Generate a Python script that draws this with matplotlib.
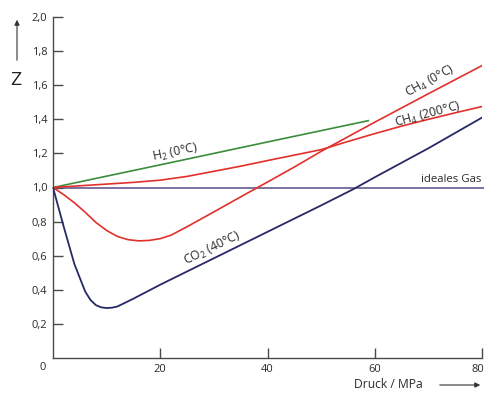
import matplotlib
matplotlib.use("Agg")
import matplotlib.pyplot as plt
import matplotlib.transforms as mtransforms

plt.rcParams['font.family'] = ['Open Sans', 'DejaVu Sans']
plt.rcParams['mathtext.fontset'] = 'custom'
plt.rcParams['mathtext.rm'] = 'Open Sans'
plt.rcParams['mathtext.it'] = 'Open Sans:italic'
plt.rcParams['mathtext.default'] = 'rm'

# Data (Druck in MPa, Z)
h2_p = [0, 20, 40, 58.8]
h2_z = [1.0, 1.133, 1.267, 1.392]

ch4_0_p = [0, 2, 4, 6, 8, 10, 12, 14, 16, 18, 20, 22, 25, 30, 35, 40, 45, 50, 60, 70, 80]
ch4_0_z = [1.0, 0.958, 0.91, 0.855, 0.795, 0.748, 0.713, 0.694, 0.687, 0.69, 0.70, 0.72,
           0.77, 0.857, 0.945, 1.032, 1.12, 1.212, 1.383, 1.55, 1.715]

ch4_200_p = [0, 5, 10, 15, 20, 25, 30, 35, 40, 45, 50, 55, 60, 65, 70, 75, 80]
ch4_200_z = [1.0, 1.01, 1.02, 1.03, 1.043, 1.065, 1.095, 1.125, 1.158, 1.19, 1.222,
             1.27, 1.316, 1.36, 1.40, 1.438, 1.475]

co2_p = [0, 2, 4, 6, 7, 8, 9, 10, 11, 12, 15, 20, 30, 40, 50, 56, 60, 70, 80]
co2_z = [1.0, 0.77, 0.55, 0.39, 0.34, 0.31, 0.297, 0.293, 0.295, 0.302, 0.348, 0.43,
         0.585, 0.74, 0.895, 0.99, 1.06, 1.23, 1.41]

ideal_p = [0, 82]
ideal_z = [1.0, 1.0]

xticks = [20, 40, 60, 80]
xticklabels = ["20", "40", "60", "80"]
yticks = [0.2, 0.4, 0.6, 0.8, 1.0, 1.2, 1.4, 1.6, 1.8, 2.0]
yticklabels = ["0,2", "0,4", "0,6", "0,8", "1,0", "1,2", "1,4", "1,6", "1,8", "2,0"]

fig = plt.figure(figsize=(4.85, 3.94), dpi=100)
ax = fig.add_axes([53 / 485, 36 / 394, 429 / 485, 341 / 394])

green = '#3c8c3c'
red = '#e2302c'
navy = '#262a64'
purple = '#5a4c86'
axc = '#4a4a4a'
tc = '#2a2a2a'

ax.plot(ideal_p, ideal_z, color=purple, lw=1.1, clip_on=False, zorder=2)
ax.plot(h2_p, h2_z, color=green, lw=1.2, zorder=3)
ax.plot(ch4_200_p, ch4_200_z, color=red, lw=1.2, zorder=3)
ax.plot(ch4_0_p, ch4_0_z, color=red, lw=1.2, zorder=3)
ax.plot(co2_p, co2_z, color=navy, lw=1.3, zorder=3)

ax.set_xlim(0, 80)
ax.set_ylim(0, 2.0)
for s in ['top', 'right']:
    ax.spines[s].set_visible(False)
for s in ['left', 'bottom']:
    ax.spines[s].set_color(axc)
    ax.spines[s].set_linewidth(1.0)

ax.set_xticks(xticks)
ax.set_xticklabels(xticklabels)
ax.set_yticks(yticks)
ax.set_yticklabels(yticklabels)
ax.tick_params(axis='both', direction='in', length=7, width=1.0, color=axc,
               labelsize=8, labelcolor=tc)
ax.tick_params(axis='y', pad=4)
ax.tick_params(axis='x', pad=4)

# nudge the last x label so it stays inside the picture
last = ax.get_xticklabels()[-1]
last.set_transform(last.get_transform() +
                   mtransforms.ScaledTranslation(-4 / 100, 0, fig.dpi_scale_trans))

ax.annotate("0", xy=(0, 0), xytext=(-10, -10), textcoords='offset pixels',
            ha='center', va='center', fontsize=8, color=tc, annotation_clip=False)

fs = 8.8
ax.text(22.8, 1.206, "H$_2$ (0°C)", rotation=12, ha='center', va='center',
        fontsize=fs, color=tc, rotation_mode='anchor')
ax.text(29.7, 0.643, "CO$_2$ (40°C)", rotation=26, ha='center', va='center',
        fontsize=fs, color=tc, rotation_mode='anchor')
ax.text(70.3, 1.62, "CH$_4$ (0°C)", rotation=28.5, ha='center', va='center',
        fontsize=fs, color=tc, rotation_mode='anchor')
ax.text(70.0, 1.427, "CH$_4$ (200°C)", rotation=15, ha='center', va='center',
        fontsize=fs, color=tc, rotation_mode='anchor')
ax.text(68.6, 1.012, "ideales Gas", ha='left', va='bottom', fontsize=8.2,
        color=tc, clip_on=False)

# Axis titles with arrows
fig.text(16 / 485, 1 - 80 / 394, "Z", ha='center', va='center', fontsize=14, color='#222222')
fig.add_artist(matplotlib.patches.FancyArrowPatch(
    (17 / 485, 1 - 63 / 394), (17 / 485, 1 - 17 / 394), transform=fig.transFigure,
    arrowstyle='-|>,head_length=3,head_width=1.5', color='#333333', lw=0.8))
fig.text(388 / 485, 1 - 384 / 394, "Druck / MPa", ha='center', va='center',
         fontsize=8.7, color=tc)
fig.add_artist(matplotlib.patches.FancyArrowPatch(
    (437 / 485, 1 - 385 / 394), (483 / 485, 1 - 385 / 394), transform=fig.transFigure,
    arrowstyle='-|>,head_length=3,head_width=1.5', color='#333333', lw=0.8))

fig.savefig("out.png", dpi=100)
